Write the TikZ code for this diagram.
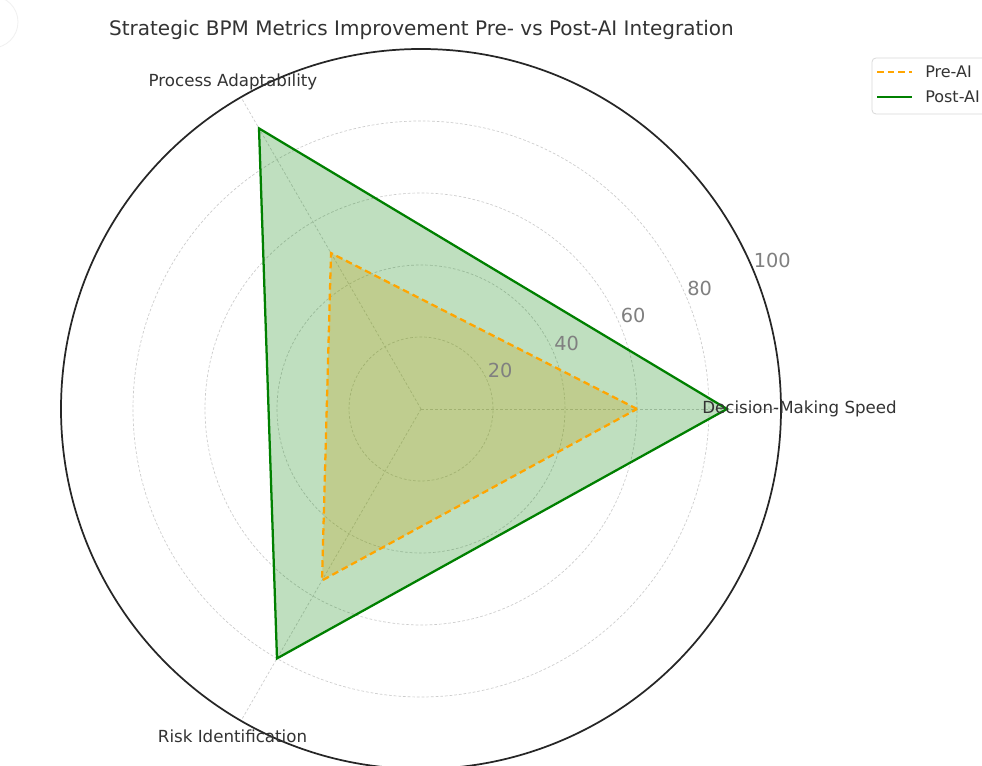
\documentclass[tikz,border=0pt]{standalone}
\usepackage{fontspec}
\setmainfont{DejaVu Sans}
\usetikzlibrary{calc,positioning}

\definecolor{preorange}{RGB}{255,165,0}
\definecolor{postgreen}{RGB}{0,128,0}
\definecolor{labelgray}{RGB}{51,51,51}
\definecolor{tickgray}{RGB}{128,128,128}

\begin{document}
\begin{tikzpicture}[x=0.75pt, y=0.75pt,
  ring/.style={gray!40, line width=0.5pt, dash pattern=on 2pt off 1.5pt},
  axislabel/.style={inner sep=0pt, text=labelgray, font=\fontsize{12.5}{15}\selectfont},
  ticklabel/.style={inner sep=0pt, anchor=south west, text=tickgray, font=\fontsize{14.5}{17}\selectfont}]
\useasboundingbox (0,0) rectangle (982,766);
\fill[white] (0,0) rectangle (982,766);
\draw[gray!12, line width=0.6pt] (-8,744) circle[radius=26];
%title
\node[inner sep=0pt, text=labelgray, font=\fontsize{15}{18}\selectfont] (title) at (421.5,736) {Strategic BPM Metrics Improvement Pre- vs Post-AI Integration};
%draw the grid
\coordinate (c) at (421,357);
\foreach \v in {20,40,60,80}
	\draw[ring] (c) circle[radius=3.6*\v];
\foreach \a/\n in {0/1,120/2,240/3}{
	\coordinate (s\n) at ($(c)+(\a:360)$);
	\draw[ring] (c) -- (s\n);
}
%first (pre) and second (post)
\coordinate (pre1) at ($(c)+(0:216)$);
\coordinate (pre2) at ($(c)+(120:180)$);
\coordinate (pre3) at ($(c)+(240:198)$);
\coordinate (post1) at ($(c)+(0:306)$);
\coordinate (post2) at ($(c)+(120:324)$);
\coordinate (post3) at ($(c)+(240:288)$);
\fill[preorange, opacity=0.25] (pre1) -- (pre2) -- (pre3) -- cycle;
\fill[postgreen, opacity=0.25] (post1) -- (post2) -- (post3) -- cycle;
\draw[preorange, line width=1.7pt, dash pattern=on 5pt off 3pt] (pre1) -- (pre2) -- (pre3) -- cycle;
\draw[postgreen, line width=1.7pt, line join=miter] (post1) -- (post2) -- (post3) -- cycle;
%outer circle
\draw[black!85, line width=1.3pt] (c) circle[radius=360];
%draw the labels
\foreach \v in {20,40,60,80,100}
	\node[ticklabel] (t\v) at ($(c)+(22.5:{3.6*\v})+(0,3)$) {\v};
\node[axislabel, anchor=west] (speed) at (702,357) {Decision-Making Speed};
\node[axislabel] (adapt) at (233,684) {Process Adaptability};
\node[axislabel] (risk) at (232.5,30) {Risk Identification};
%legend
\draw[gray!30, fill=white, rounded corners=3pt, line width=0.6pt] (872,708) rectangle (1010,652);
\coordinate (la) at (877,694); \coordinate (lb) at (912,694);
\coordinate (lc) at (877,669); \coordinate (ld) at (912,669);
\draw[preorange, line width=1.7pt, dash pattern=on 5pt off 3pt] (la) -- (lb);
\draw[postgreen, line width=1.7pt] (lc) -- (ld);
\node[axislabel, anchor=west, font=\fontsize{12}{14}\selectfont] (lpre) at (925,694) {Pre-AI};
\node[axislabel, anchor=west, font=\fontsize{12}{14}\selectfont] (lpost) at (925,669) {Post-AI};
\end{tikzpicture}
\end{document}
